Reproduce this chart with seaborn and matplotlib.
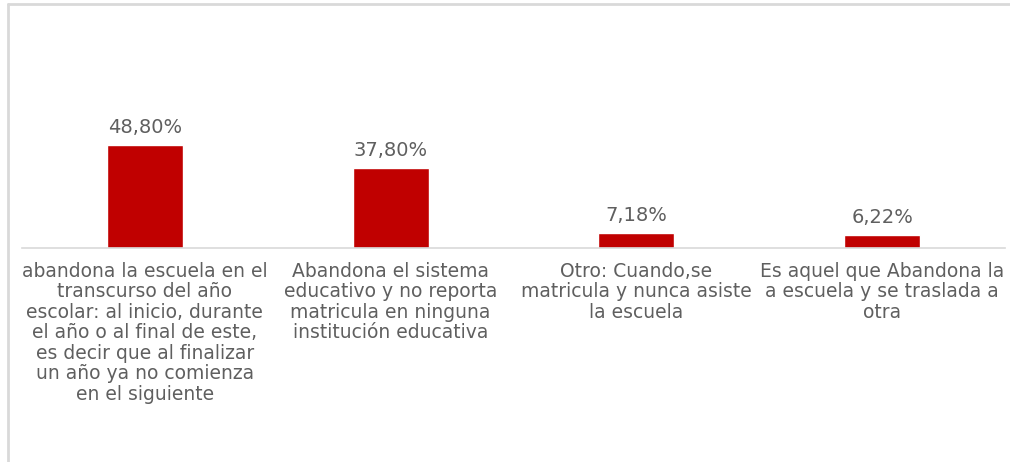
import matplotlib
matplotlib.use("Agg")
import matplotlib.pyplot as plt
import matplotlib.lines as mlines
import seaborn as sns
import pandas as pd

categorias = [
    "abandona la escuela en el\ntranscurso del año\nescolar: al inicio, durante\nel año o al final de este,\nes decir que al finalizar\nun año ya no comienza\nen el siguiente",
    "Abandona el sistema\neducativo y no reporta\nmatricula en ninguna\ninstitución educativa",
    "Otro: Cuando,se\nmatricula y nunca asiste\nla escuela",
    "Es aquel que Abandona la\na escuela y se traslada a\notra",
]
porcentajes = [48.80, 37.80, 7.18, 6.22]

sns.set_theme(style="white")
plt.rcParams["font.family"] = ["DejaVu Sans"]

df = pd.DataFrame({"categoria": categorias, "porcentaje": porcentajes})

fig = plt.figure(figsize=(10.10, 4.62), dpi=100)
ax = fig.add_axes([22 / 1010, (462 - 248) / 462, (1005 - 22) / 1010, (248 - 20) / 462])

sns.barplot(data=df, x="categoria", y="porcentaje", color="#C00000",
            saturation=1, width=0.31, ax=ax)

ax.set_ylim(0, 108)
ax.set_xlim(-0.5, len(categorias) - 0.5)
ax.set_xlabel("")
ax.set_ylabel("")
ax.set_yticks([])
for s in ["top", "right", "left"]:
    ax.spines[s].set_visible(False)
ax.spines["bottom"].set_color("#d9d9d9")
ax.spines["bottom"].set_linewidth(1.2)

ax.tick_params(axis="x", length=0, pad=10)
for lbl in ax.get_xticklabels():
    lbl.set_fontsize(13.5)
    lbl.set_color("#5f5f5f")
    lbl.set_linespacing(1.1)
    lbl.set_horizontalalignment("center")
    lbl.set_verticalalignment("top")

ax.bar_label(ax.containers[0],
             labels=[f"{v:.2f}".replace(".", ",") + "%" for v in porcentajes],
             padding=6, fontsize=14, color="#5f5f5f")

# chart frame
fig.add_artist(mlines.Line2D([8 / 1010, 8 / 1010], [0, 1 - 4 / 462],
                             transform=fig.transFigure, color="#d9d9d9", lw=2))
fig.add_artist(mlines.Line2D([8 / 1010, 1], [1 - 4 / 462, 1 - 4 / 462],
                             transform=fig.transFigure, color="#d9d9d9", lw=2))

fig.savefig("out.png", dpi=100, facecolor="white")
